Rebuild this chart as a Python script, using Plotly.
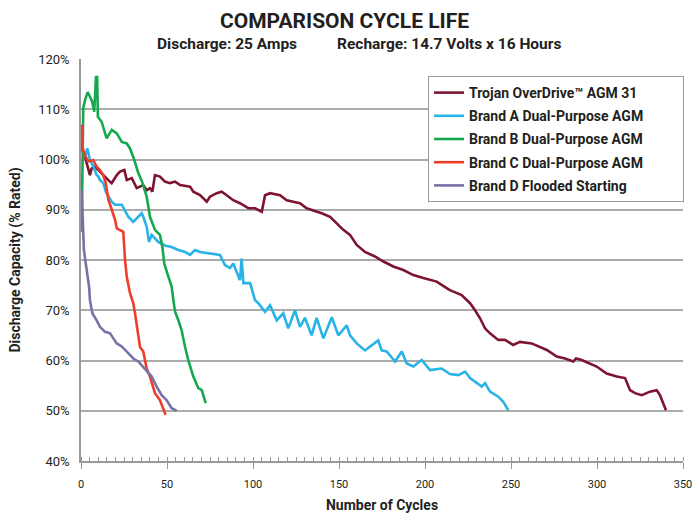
import plotly.graph_objects as go

# ---------------- data ----------------
trojan_x = [0.4, 0.8, 2.3, 3.3, 5.2, 6.2, 8.1, 10.1, 12, 14, 15.9, 17.8, 20.8, 22.7, 25.2, 26.6, 29.5,
            32.4, 34.3, 36.2, 38.2, 40.1, 41.5, 43, 45.9, 48.8, 51.7, 54.7, 57.6, 63.4, 65.3, 69.2,
            73.1, 75, 78.9, 81.8, 84.7, 88.5, 92.4, 97.3, 101.2, 105.1, 107, 109.9, 115.7, 119.6,
            123.4, 127.3, 131.2, 135.1, 139.9, 144.8, 148.7, 152.5, 156.4, 160.3, 165.1, 170.9,
            175.8, 181.6, 187.4, 193.2, 199, 206.8, 212.6, 214.5, 221.3, 226.2, 229.1, 232, 234.9,
            237.8, 242.6, 246.5, 251.3, 255.2, 262, 265.9, 270.8, 276.6, 281.4, 286.2, 287.8,
            291.1, 295.9, 299.8, 305.6, 311.5, 316.3, 319.2, 322.1, 326, 330.8, 334.7, 336.6, 340.1]
trojan_y = [103.9, 101.9, 100.6, 99.2, 96.9, 98.2, 98.6, 97.9, 97.2, 96.6, 95.9, 95.3, 96.9, 97.6,
            97.9, 95.9, 96.3, 94.3, 94.6, 94.9, 93.9, 94.3, 93.6, 96.9, 96.6, 95.6, 95.3, 95.6, 94.9,
            94.6, 93.6, 92.9, 91.6, 92.6, 93.3, 93.6, 92.9, 91.9, 91.3, 90.3, 90.3, 89.6, 92.9, 93.3,
            92.9, 91.9, 91.6, 91.3, 90.3, 89.9, 89.3, 88.6, 87.3, 86.0, 85.0, 83.0, 81.6, 80.7, 79.7,
            78.7, 78.0, 77.0, 76.4, 75.7, 74.4, 74.0, 73.0, 71.4, 70.0, 68.4, 66.4, 65.4, 64.1, 64.1,
            63.1, 63.7, 63.4, 62.8, 62.1, 60.8, 60.4, 59.8, 60.4, 60.1, 59.4, 58.8, 57.4, 56.8, 56.5,
            54.1, 53.5, 53.1, 53.8, 54.1, 53.1, 50.1]

brand_a_x = [2.3, 3.7, 5.2, 7.2, 9.1, 10.1, 11, 13, 14.5, 17.8, 19.8, 23.7, 27.5, 30.4, 33.3, 35.3,
             36.2, 38.2, 39.5, 41.1, 43, 44.9, 48.8, 52.7, 56.6, 60.5, 63.4, 66.3, 69.2, 75, 80.8,
             83.7, 86.6, 88.5, 90.5, 92.4, 93.4, 94.4, 98.3, 101.2, 103.1, 104.1, 107, 109.9, 113.8,
             117.6, 120.5, 124.4, 127.3, 130.2, 134.1, 137, 140.9, 145.8, 149.6, 154.5, 156.4,
             160.3, 165.1, 172.8, 174.8, 177.7, 182.6, 186.5, 189.4, 193.2, 198.1, 202.9, 209.7,
             214.5, 219.4, 223.3, 226.2, 233, 234.9, 237.8, 242.6, 245.5, 248.4]
brand_a_y = [100.5, 102.2, 99.9, 98.6, 96.9, 96.6, 95.9, 95.3, 93.5, 91.6, 91.0, 91.0, 88.6, 87.6,
             88.6, 89.3, 88.6, 86.6, 83.6, 85.0, 84.3, 83.6, 82.9, 82.6, 82.0, 81.6, 81.0, 82.0, 81.6,
             81.3, 81.0, 79.0, 78.4, 79.3, 77.4, 76.0, 80.3, 75.4, 75.4, 72.0, 71.4, 71.0, 69.7, 71.0,
             68.0, 69.4, 66.4, 70.0, 66.7, 68.5, 65.0, 68.5, 64.4, 68.6, 65.0, 67.0, 65.0, 63.4, 62.0,
             64.0, 62.0, 61.8, 59.8, 61.8, 59.4, 58.8, 60.1, 58.1, 58.4, 57.3, 57.1, 57.8, 56.5, 54.8,
             55.5, 53.8, 52.8, 51.8, 50.1]

brand_b_x = [0.4, 1.3, 2.5, 3.9, 5.2, 6.5, 7.7, 8.7, 9.4, 9.8, 12, 14.9, 17.9, 20.8, 23.7, 26.6, 28.5,
             31, 33.3, 35.3, 38.2, 40.1, 43, 45.9, 47.3, 48.4, 50.8, 52.7, 53.7, 54.7, 56.6, 58.5,
             60.5, 62.4, 65.3, 66.3, 68.2, 70.2, 72.5]
brand_b_y = [85.6, 110.2, 112.0, 113.4, 112.5, 111.5, 109.5, 116.4, 116.4, 108.5, 107.5, 104.2,
             105.9, 105.2, 103.5, 103.2, 102.2, 99.9, 97.3, 95.8, 92.6, 88.6, 86.0, 85.0, 82.6, 79.3,
             76.7, 74.7, 72.0, 69.7, 68.0, 66.0, 62.7, 60.0, 56.8, 56.1, 54.5, 54.1, 51.5]

brand_c_x = [0.4, 0.7, 2.3, 4.2, 7.1, 9.1, 11, 12.9, 14.4, 15.9, 16.9, 19.8, 20.8, 24.6, 25.6, 26.6,
             28.5, 30.4, 31.4, 33.3, 34.3, 36.2, 38.2, 40.1, 43, 45.9, 47.3, 49.2]
brand_c_y = [106.9, 102.5, 100.9, 99.6, 99.9, 98.6, 97.9, 96.9, 95.3, 92.0, 91.0, 88.0, 86.3, 85.6,
             80.0, 76.7, 73.4, 71.4, 69.4, 64.8, 62.7, 61.8, 58.4, 56.8, 53.5, 52.1, 50.8, 49.2]

brand_d_x = [0.4, 1.2, 1.7, 3.3, 4.2, 4.7, 5.2, 6.6, 9.1, 11, 14, 16.9, 18.8, 20.8, 23.7, 26.6, 30.4,
             33.3, 37.2, 41.1, 44, 46.9, 49.8, 52.7, 55.6]
brand_d_y = [93.9, 87.0, 82.0, 78.0, 76.0, 74.7, 72.0, 69.4, 68.0, 66.7, 65.7, 65.4, 64.4, 63.4,
             62.8, 61.8, 60.4, 59.8, 58.4, 56.8, 54.8, 53.1, 52.1, 50.5, 50.0]

series_names = ["Trojan OverDrive™ AGM 31", "Brand A Dual-Purpose AGM", "Brand B Dual-Purpose AGM",
                "Brand C Dual-Purpose AGM", "Brand D Flooded Starting"]
series_colors = ["#7d1430", "#27b3e6", "#16a84f", "#ef3d2b", "#7673a9"]

x_ticks = [0, 50, 100, 150, 200, 250, 300, 350]
y_ticks = [40, 50, 60, 70, 80, 90, 100, 110, 120]

title_text = "COMPARISON CYCLE LIFE"
subtitle_left = "Discharge: 25 Amps"
subtitle_right = "Recharge: 14.7 Volts x 16 Hours"
x_title = "Number of Cycles"
y_title = "Discharge Capacity (% Rated)"

# ---------------- figure ----------------
FONT = "Roboto, Noto Sans, sans-serif"
TXT = "#231f20"
L, R, T, B = 81, 683, 59, 461
PW, PH = R - L, B - T
LEGEND_PAD = "\u00a0" * 10  # right padding inside the legend box (styling only)

fig = go.Figure()
all_x = [trojan_x, brand_a_x, brand_b_x, brand_c_x, brand_d_x]
all_y = [trojan_y, brand_a_y, brand_b_y, brand_c_y, brand_d_y]
for i, (xs, ys) in enumerate(zip(all_x, all_y)):
    fig.add_trace(go.Scatter(
        x=xs, y=ys, mode="lines",
        name=series_names[i] + (LEGEND_PAD if i == 1 else ""),
        legendgroup=f"g{i}",
        line=dict(color=series_colors[i], width=2.6),
    ))

fig.update_layout(
    width=696, height=513,
    margin=dict(l=L, r=696 - R, t=T, b=513 - B, autoexpand=False),
    paper_bgcolor="white", plot_bgcolor="white",
    showlegend=True,
    legend=dict(
        x=(428 - L) / PW, y=(B - 76) / PH, xanchor="left", yanchor="top",
        bgcolor="white", bordercolor="#9a9a9a", borderwidth=1,
        font=dict(family=FONT, size=14, color=TXT, weight="bold"),
        tracegroupgap=2, itemwidth=30,
    ),
)
fig.add_annotation(text=f"<b>{title_text}</b>", xref="paper", yref="paper",
                   x=(344 - L) / PW, y=(B - 21) / PH, xanchor="center", yanchor="middle",
                   showarrow=False, font=dict(family=FONT, size=21, color=TXT))
fig.add_annotation(text=f"<b>{subtitle_left}</b>", xref="paper", yref="paper",
                   x=(155 - L) / PW, y=(B - 44) / PH, xanchor="left", yanchor="middle",
                   showarrow=False, font=dict(family=FONT, size=15.5, color=TXT))
fig.add_annotation(text=f"<b>{subtitle_right}</b>", xref="paper", yref="paper",
                   x=(563 - L) / PW, y=(B - 44) / PH, xanchor="right", yanchor="middle",
                   showarrow=False, font=dict(family=FONT, size=15.5, color=TXT))

fig.update_xaxes(
    range=[0, 350], tickvals=x_ticks, ticktext=[str(v) for v in x_ticks],
    showgrid=False, zeroline=False, automargin=False,
    showline=True, linecolor="#9a9a9a", linewidth=1.5,
    ticks="outside", ticklen=6, tickcolor="#9a9a9a", tickwidth=1,
    ticklabelstandoff=6,
    minor=dict(dtick=5, ticks="inside", ticklen=4, tickcolor="#9a9a9a", tickwidth=1, showgrid=False),
    tickfont=dict(family=FONT, size=11, color=TXT),
    title=dict(text=f"<b>{x_title}</b>", font=dict(family=FONT, size=14, color=TXT), standoff=11),
)
fig.update_yaxes(
    range=[40, 120], tickvals=y_ticks, ticktext=[f"{v}%" for v in y_ticks],
    showgrid=True, gridcolor="#ababab", gridwidth=1.5, zeroline=False, automargin=False,
    showline=True, linecolor="#9a9a9a", linewidth=1.5,
    ticks="", ticklabelstandoff=7,
    tickfont=dict(family=FONT, size=13, color=TXT),
    title=dict(text=f"<b>{y_title}</b>", font=dict(family=FONT, size=14, color=TXT), standoff=14),
)

fig.write_html("out.html", config={"displayModeBar": False},
               post_script="document.body.style.margin='0';")
